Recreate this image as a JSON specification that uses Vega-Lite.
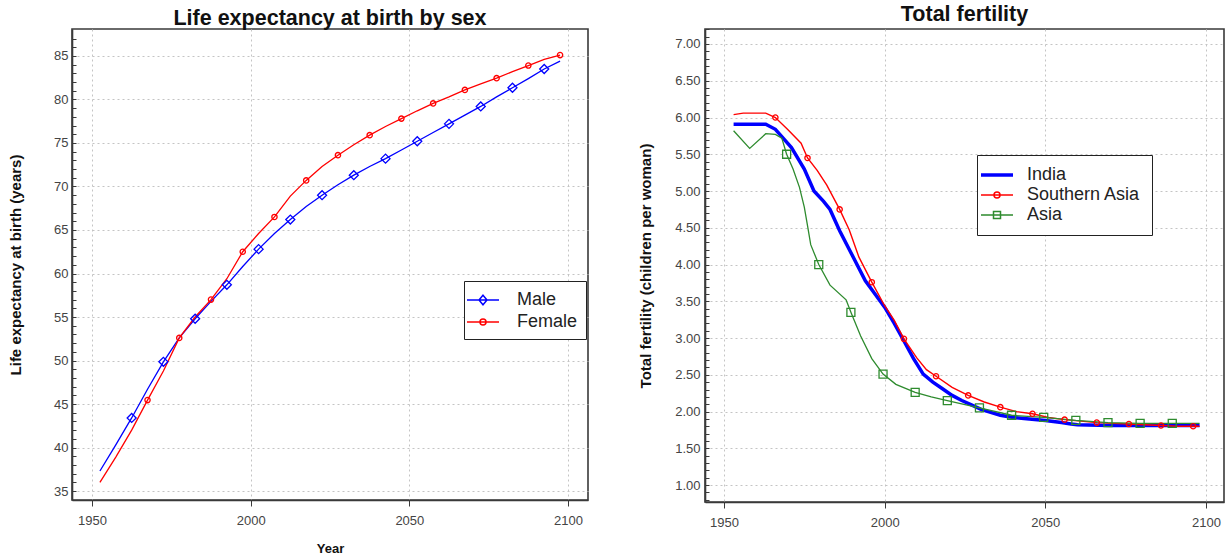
{
  "$schema": "https://vega.github.io/schema/vega-lite/v6.json",
  "padding": {"left": 7, "top": 3, "right": 0, "bottom": 0},
  "bounds": "flush",
  "spacing": 117,
  "background": "white",
  "resolve": {
    "scale": {"color": "independent"},
    "legend": {"color": "independent"}
  },
  "hconcat": [
    {
      "title": {"text": "Life expectancy at birth by sex", "offset": 0},
      "width": 516,
      "height": 471,
      "data": {"values": [
        {"year": 1952.5, "value": 37.3, "sex": "Male"},
        {"year": 1957.5, "value": 40.3, "sex": "Male"},
        {"year": 1962.5, "value": 43.4, "sex": "Male"},
        {"year": 1967.5, "value": 46.7, "sex": "Male"},
        {"year": 1972.5, "value": 49.85, "sex": "Male"},
        {"year": 1977.5, "value": 52.6, "sex": "Male"},
        {"year": 1982.5, "value": 54.8, "sex": "Male"},
        {"year": 1987.5, "value": 56.8, "sex": "Male"},
        {"year": 1992.5, "value": 58.7, "sex": "Male"},
        {"year": 1997.5, "value": 60.8, "sex": "Male"},
        {"year": 2002.5, "value": 62.8, "sex": "Male"},
        {"year": 2007.5, "value": 64.6, "sex": "Male"},
        {"year": 2012.5, "value": 66.2, "sex": "Male"},
        {"year": 2017.5, "value": 67.7, "sex": "Male"},
        {"year": 2022.5, "value": 69.0, "sex": "Male"},
        {"year": 2027.5, "value": 70.2, "sex": "Male"},
        {"year": 2032.5, "value": 71.3, "sex": "Male"},
        {"year": 2037.5, "value": 72.3, "sex": "Male"},
        {"year": 2042.5, "value": 73.2, "sex": "Male"},
        {"year": 2047.5, "value": 74.2, "sex": "Male"},
        {"year": 2052.5, "value": 75.2, "sex": "Male"},
        {"year": 2057.5, "value": 76.2, "sex": "Male"},
        {"year": 2062.5, "value": 77.2, "sex": "Male"},
        {"year": 2067.5, "value": 78.2, "sex": "Male"},
        {"year": 2072.5, "value": 79.2, "sex": "Male"},
        {"year": 2077.5, "value": 80.3, "sex": "Male"},
        {"year": 2082.5, "value": 81.35, "sex": "Male"},
        {"year": 2087.5, "value": 82.4, "sex": "Male"},
        {"year": 2092.5, "value": 83.5, "sex": "Male"},
        {"year": 2097.5, "value": 84.4, "sex": "Male"},
        {"year": 1952.5, "value": 36.0, "sex": "Female"},
        {"year": 1957.5, "value": 38.9, "sex": "Female"},
        {"year": 1962.5, "value": 42.0, "sex": "Female"},
        {"year": 1967.5, "value": 45.45, "sex": "Female"},
        {"year": 1972.5, "value": 48.8, "sex": "Female"},
        {"year": 1977.5, "value": 52.6, "sex": "Female"},
        {"year": 1982.5, "value": 55.0, "sex": "Female"},
        {"year": 1987.5, "value": 57.0, "sex": "Female"},
        {"year": 1992.5, "value": 59.4, "sex": "Female"},
        {"year": 1997.5, "value": 62.5, "sex": "Female"},
        {"year": 2002.5, "value": 64.6, "sex": "Female"},
        {"year": 2007.5, "value": 66.5, "sex": "Female"},
        {"year": 2012.5, "value": 68.9, "sex": "Female"},
        {"year": 2017.5, "value": 70.7, "sex": "Female"},
        {"year": 2022.5, "value": 72.3, "sex": "Female"},
        {"year": 2027.5, "value": 73.6, "sex": "Female"},
        {"year": 2032.5, "value": 74.8, "sex": "Female"},
        {"year": 2037.5, "value": 75.9, "sex": "Female"},
        {"year": 2042.5, "value": 76.9, "sex": "Female"},
        {"year": 2047.5, "value": 77.8, "sex": "Female"},
        {"year": 2052.5, "value": 78.7, "sex": "Female"},
        {"year": 2057.5, "value": 79.55, "sex": "Female"},
        {"year": 2062.5, "value": 80.3, "sex": "Female"},
        {"year": 2067.5, "value": 81.1, "sex": "Female"},
        {"year": 2072.5, "value": 81.8, "sex": "Female"},
        {"year": 2077.5, "value": 82.45, "sex": "Female"},
        {"year": 2082.5, "value": 83.2, "sex": "Female"},
        {"year": 2087.5, "value": 83.9, "sex": "Female"},
        {"year": 2092.5, "value": 84.6, "sex": "Female"},
        {"year": 2097.5, "value": 85.1, "sex": "Female"}
      ]},
      "encoding": {
        "x": {
          "field": "year", "type": "quantitative",
          "scale": {"domain": [1943.7, 2106.3], "nice": false, "zero": false},
          "axis": {"values": [1950, 2000, 2050, 2100], "format": "d", "title": "Year", "titleFontSize": 13, "titlePadding": 15, "tickSize": 6, "labelPadding": 8, "grid": true}
        },
        "y": {
          "field": "value", "type": "quantitative",
          "scale": {"domain": [33.97, 88.1], "nice": false, "zero": false},
          "axis": {
            "values": [34,35,36,37,38,39,40,41,42,43,44,45,46,47,48,49,50,51,52,53,54,55,56,57,58,59,60,61,62,63,64,65,66,67,68,69,70,71,72,73,74,75,76,77,78,79,80,81,82,83,84,85,86,87],
            "title": "Life expectancy at birth (years)", "titleFontSize": 15,
            "tickSize": -4, "labelPadding": 8, "minExtent": 30, "maxExtent": 30, "titlePadding": 19,
            "labelExpr": "datum.value % 5 === 0 ? datum.label : ''",
            "gridOpacity": {"condition": {"test": "datum.value % 5 === 0", "value": 1}, "value": 0},
            "grid": true
          }
        }
      },
      "layer": [
        {
          "mark": {"type": "line", "strokeWidth": 1.3},
          "encoding": {
            "color": {
              "field": "sex", "type": "nominal",
              "scale": {"domain": ["Male", "Female"], "range": ["#0000ff", "#ff0000"]},
              "legend": {
                "orient": "none", "legendX": 392, "legendY": 252, "title": null,
                "padding": 8, "rowPadding": 2, "labelOffset": 23, "symbolSize": 400,
                "labelFontSize": 18, "labelColor": "#222", "labelFont": "Liberation Sans",
                "strokeColor": "#222", "fillColor": "white",
                "symbolType": {"expr": "datum.value === 'Male' ? 'M-1.6,0L1.6,0M0,-0.48L0.4,0L0,0.48L-0.4,0Z' : 'M-1.6,0L1.6,0M0.3,0A0.3,0.3,0,1,1,-0.3,0A0.3,0.3,0,1,1,0.3,0'"},
                "symbolFillColor": "transparent",
                "symbolStrokeWidth": 1.5
              }
            }
          }
        },
        {
          "transform": [{"filter": "datum.sex === 'Male' && datum.year > 1960 && (datum.year - 1962.5) % 10 === 0"}],
          "mark": {"type": "point", "shape": "diamond", "size": 81, "filled": false, "color": "#0000ff", "strokeWidth": 1.3, "opacity": 1}
        },
        {
          "transform": [{"filter": "datum.sex === 'Female' && datum.year > 1960 && (datum.year - 1967.5) % 10 === 0"}],
          "mark": {"type": "point", "shape": "circle", "size": 28, "filled": false, "color": "#ff0000", "strokeWidth": 1.3, "opacity": 1}
        }
      ]
    },
    {
      "title": {"text": "Total fertility", "offset": 3},
      "width": 519,
      "height": 473,
      "data": {"values": [
        {"year": 1953, "value": 5.91, "region": "India"},
        {"year": 1963, "value": 5.91, "region": "India"},
        {"year": 1966, "value": 5.84, "region": "India"},
        {"year": 1968, "value": 5.74, "region": "India"},
        {"year": 1971, "value": 5.59, "region": "India"},
        {"year": 1975, "value": 5.3, "region": "India"},
        {"year": 1978, "value": 5.0, "region": "India"},
        {"year": 1981, "value": 4.86, "region": "India"},
        {"year": 1983, "value": 4.75, "region": "India"},
        {"year": 1986, "value": 4.46, "region": "India"},
        {"year": 1990, "value": 4.12, "region": "India"},
        {"year": 1994, "value": 3.78, "region": "India"},
        {"year": 1997, "value": 3.6, "region": "India"},
        {"year": 2000, "value": 3.42, "region": "India"},
        {"year": 2003, "value": 3.2, "region": "India"},
        {"year": 2006, "value": 2.96, "region": "India"},
        {"year": 2009, "value": 2.72, "region": "India"},
        {"year": 2012, "value": 2.51, "region": "India"},
        {"year": 2015, "value": 2.4, "region": "India"},
        {"year": 2018, "value": 2.31, "region": "India"},
        {"year": 2021, "value": 2.22, "region": "India"},
        {"year": 2024, "value": 2.15, "region": "India"},
        {"year": 2027, "value": 2.09, "region": "India"},
        {"year": 2030, "value": 2.03, "region": "India"},
        {"year": 2033, "value": 1.99, "region": "India"},
        {"year": 2036, "value": 1.95, "region": "India"},
        {"year": 2040, "value": 1.92, "region": "India"},
        {"year": 2045, "value": 1.9, "region": "India"},
        {"year": 2050, "value": 1.88, "region": "India"},
        {"year": 2055, "value": 1.85, "region": "India"},
        {"year": 2058, "value": 1.83, "region": "India"},
        {"year": 2060, "value": 1.82, "region": "India"},
        {"year": 2070, "value": 1.81, "region": "India"},
        {"year": 2080, "value": 1.81, "region": "India"},
        {"year": 2090, "value": 1.81, "region": "India"},
        {"year": 2098, "value": 1.81, "region": "India"},
        {"year": 1953, "value": 6.04, "region": "Southern Asia"},
        {"year": 1956, "value": 6.06, "region": "Southern Asia"},
        {"year": 1963, "value": 6.06, "region": "Southern Asia"},
        {"year": 1966, "value": 6.0, "region": "Southern Asia"},
        {"year": 1970, "value": 5.83, "region": "Southern Asia"},
        {"year": 1974, "value": 5.65, "region": "Southern Asia"},
        {"year": 1976, "value": 5.45, "region": "Southern Asia"},
        {"year": 1979, "value": 5.28, "region": "Southern Asia"},
        {"year": 1982, "value": 5.08, "region": "Southern Asia"},
        {"year": 1986, "value": 4.75, "region": "Southern Asia"},
        {"year": 1989, "value": 4.47, "region": "Southern Asia"},
        {"year": 1992, "value": 4.1, "region": "Southern Asia"},
        {"year": 1996, "value": 3.76, "region": "Southern Asia"},
        {"year": 2000, "value": 3.44, "region": "Southern Asia"},
        {"year": 2003, "value": 3.24, "region": "Southern Asia"},
        {"year": 2006, "value": 2.99, "region": "Southern Asia"},
        {"year": 2010, "value": 2.73, "region": "Southern Asia"},
        {"year": 2013, "value": 2.57, "region": "Southern Asia"},
        {"year": 2016, "value": 2.48, "region": "Southern Asia"},
        {"year": 2021, "value": 2.33, "region": "Southern Asia"},
        {"year": 2026, "value": 2.22, "region": "Southern Asia"},
        {"year": 2031, "value": 2.13, "region": "Southern Asia"},
        {"year": 2036, "value": 2.06, "region": "Southern Asia"},
        {"year": 2041, "value": 2.0, "region": "Southern Asia"},
        {"year": 2046, "value": 1.97, "region": "Southern Asia"},
        {"year": 2051, "value": 1.92, "region": "Southern Asia"},
        {"year": 2056, "value": 1.89, "region": "Southern Asia"},
        {"year": 2061, "value": 1.87, "region": "Southern Asia"},
        {"year": 2066, "value": 1.85, "region": "Southern Asia"},
        {"year": 2071, "value": 1.84, "region": "Southern Asia"},
        {"year": 2076, "value": 1.83, "region": "Southern Asia"},
        {"year": 2081, "value": 1.82, "region": "Southern Asia"},
        {"year": 2086, "value": 1.81, "region": "Southern Asia"},
        {"year": 2091, "value": 1.8, "region": "Southern Asia"},
        {"year": 2096, "value": 1.8, "region": "Southern Asia"},
        {"year": 2098, "value": 1.8, "region": "Southern Asia"},
        {"year": 1953, "value": 5.82, "region": "Asia"},
        {"year": 1958, "value": 5.58, "region": "Asia"},
        {"year": 1963, "value": 5.78, "region": "Asia"},
        {"year": 1966, "value": 5.77, "region": "Asia"},
        {"year": 1968, "value": 5.72, "region": "Asia"},
        {"year": 1969.5, "value": 5.5, "region": "Asia"},
        {"year": 1971.5, "value": 5.3, "region": "Asia"},
        {"year": 1973.5, "value": 5.05, "region": "Asia"},
        {"year": 1975, "value": 4.78, "region": "Asia"},
        {"year": 1976, "value": 4.53, "region": "Asia"},
        {"year": 1977, "value": 4.27, "region": "Asia"},
        {"year": 1979.5, "value": 4.0, "region": "Asia"},
        {"year": 1983, "value": 3.72, "region": "Asia"},
        {"year": 1988, "value": 3.52, "region": "Asia"},
        {"year": 1989.5, "value": 3.35, "region": "Asia"},
        {"year": 1992.5, "value": 3.03, "region": "Asia"},
        {"year": 1996, "value": 2.72, "region": "Asia"},
        {"year": 1999.5, "value": 2.51, "region": "Asia"},
        {"year": 2003.5, "value": 2.37, "region": "Asia"},
        {"year": 2009.5, "value": 2.26, "region": "Asia"},
        {"year": 2014.5, "value": 2.2, "region": "Asia"},
        {"year": 2019.5, "value": 2.15, "region": "Asia"},
        {"year": 2029.5, "value": 2.05, "region": "Asia"},
        {"year": 2039.5, "value": 1.95, "region": "Asia"},
        {"year": 2049.5, "value": 1.92, "region": "Asia"},
        {"year": 2059.5, "value": 1.88, "region": "Asia"},
        {"year": 2069.5, "value": 1.85, "region": "Asia"},
        {"year": 2079.5, "value": 1.84, "region": "Asia"},
        {"year": 2089.5, "value": 1.84, "region": "Asia"},
        {"year": 2098, "value": 1.84, "region": "Asia"}
      ]},
      "encoding": {
        "x": {
          "field": "year", "type": "quantitative",
          "scale": {"domain": [1944.1, 2105.6], "nice": false, "zero": false},
          "axis": {"values": [1950, 2000, 2050, 2100], "format": "d", "title": null, "tickSize": 6, "labelPadding": 8, "grid": true}
        },
        "y": {
          "field": "value", "type": "quantitative",
          "scale": {"domain": [0.77, 7.204], "nice": false, "zero": false},
          "axis": {
            "values": [0.8,0.9,1,1.1,1.2,1.3,1.4,1.5,1.6,1.7,1.8,1.9,2,2.1,2.2,2.3,2.4,2.5,2.6,2.7,2.8,2.9,3,3.1,3.2,3.3,3.4,3.5,3.6,3.7,3.8,3.9,4,4.1,4.2,4.3,4.4,4.5,4.6,4.7,4.8,4.9,5,5.1,5.2,5.3,5.4,5.5,5.6,5.7,5.8,5.9,6,6.1,6.2,6.3,6.4,6.5,6.6,6.7,6.8,6.9,7,7.1,7.2],
            "title": "Total fertility (children per woman)", "titleFontSize": 15,
            "tickSize": -4, "labelPadding": 9, "minExtent": 30, "maxExtent": 30, "titlePadding": 22,
            "labelExpr": "abs(datum.value * 2 - round(datum.value * 2)) < 0.001 ? format(datum.value, '.2f') : ''",
            "gridOpacity": {"condition": {"test": "abs(datum.value * 2 - round(datum.value * 2)) < 0.001", "value": 1}, "value": 0},
            "grid": true
          }
        }
      },
      "layer": [
        {
          "mark": {"type": "line"},
          "encoding": {
            "color": {
              "field": "region", "type": "nominal",
              "scale": {"domain": ["India", "Southern Asia", "Asia"], "range": ["#0000ff", "#ff0000", "#2e8b2e"]},
              "legend": {
                "orient": "none", "legendX": 272, "legendY": 126, "title": null,
                "padding": 11, "rowPadding": 2, "labelOffset": 21, "symbolSize": 400,
                "labelFontSize": 18, "labelColor": "#222", "labelFont": "Liberation Sans",
                "strokeColor": "#222", "fillColor": "white",
                "symbolType": {"expr": "datum.value === 'India' ? 'M-1.6,0L1.6,0' : datum.value === 'Southern Asia' ? 'M-1.6,0L1.6,0M0.3,0A0.3,0.3,0,1,1,-0.3,0A0.3,0.3,0,1,1,0.3,0' : 'M-1.6,0L1.6,0M-0.35,-0.35L0.35,-0.35L0.35,0.35L-0.35,0.35Z'"},
                "symbolFillColor": "transparent",
                "symbolStrokeWidth": {"expr": "datum.value === 'India' ? 3.5 : 1.5"}
              }
            },
            "strokeWidth": {"field": "region", "type": "nominal", "scale": {"type": "ordinal", "domain": ["India", "Southern Asia", "Asia"], "range": [3.5, 1.4, 1.3]}, "legend": null}
          }
        },
        {
          "transform": [{"filter": "datum.region === 'Southern Asia' && datum.year > 1960 && (datum.year - 1966) % 10 === 0"}],
          "mark": {"type": "point", "shape": "circle", "size": 28, "filled": false, "color": "#ff0000", "strokeWidth": 1.3, "opacity": 1}
        },
        {
          "transform": [{"filter": "datum.region === 'Asia' && datum.year > 1960 && (datum.year - 1969.5) % 10 === 0"}],
          "mark": {"type": "point", "shape": "square", "size": 64, "filled": false, "color": "#2e8b2e", "strokeWidth": 1.3, "opacity": 1}
        }
      ]
    }
  ],
  "config": {
    "font": "Liberation Sans",
    "view": {"stroke": "#3a3a3a", "strokeWidth": 1.6},
    "axis": {
      "labelFont": "Liberation Sans", "labelFontSize": 13, "labelColor": "#444",
      "titleFont": "Liberation Sans", "titleFontWeight": "bold", "titleColor": "#111",
      "gridColor": "#c4c4c4", "gridDash": [2, 3], "gridWidth": 1,
      "domainColor": "#3a3a3a", "domainWidth": 1.6, "tickColor": "#3a3a3a", "tickWidth": 1
    },
    "title": {"font": "Liberation Sans", "fontSize": 21.5, "fontWeight": "bold", "color": "#111", "anchor": "middle", "baseline": "bottom"}
  }
}
